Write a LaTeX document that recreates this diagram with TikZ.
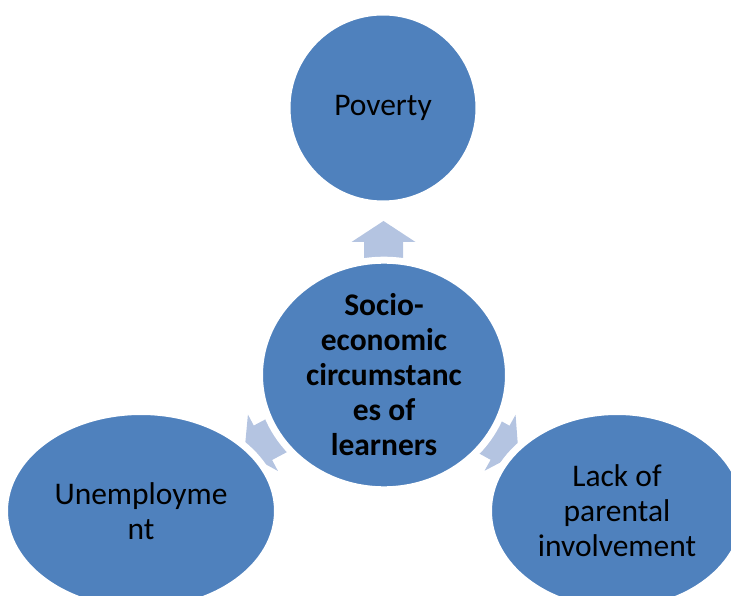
\documentclass[tikz,border=0pt]{standalone}
\usepackage{fontspec}
\setmainfont{Carlito}
\usepackage{tikz}
\usetikzlibrary{calc,shapes.geometric}

\definecolor{bubble}{RGB}{79,129,189}
\definecolor{arrowfill}{RGB}{180,196,225}

\begin{document}
\begin{tikzpicture}[
  x=1pt,y=1pt,
  font=\fontsize{31.5}{35}\selectfont,
  bubble/.style={ellipse,fill=bubble,draw=white,line width=7pt,inner sep=0pt,align=center,text=black},
  hub/.style={bubble,font=\fontsize{31.5}{35}\selectfont\bfseries},
  blockarrow/.pic={
    \fill[arrowfill] (-20.5,-19.5) -- (-0.5,-19.5) -- (-0.5,-32) -- (20.5,0)
      -- (-0.5,32) -- (-0.5,19.5) -- (-20.5,19.5) -- cycle;
  }
]

% ---- page frame ----
\useasboundingbox (0,0) rectangle (731,595);
\clip (0,0) rectangle (731,595);

% ---- centres ----
\coordinate (cpov) at (383,487);
\coordinate (chub) at (384,220);
\coordinate (cunemp) at (141,84);
\coordinate (clack) at (617,84);

% ---- arrows (behind the bubbles) ----
\path ($(chub)!0.5!(cpov)$) pic[rotate=90] {blockarrow};
\path ($(chub)!0.5!(cunemp)$) pic[rotate=208] {blockarrow};
\path ($(chub)!0.5!(clack)$) pic[rotate=-29] {blockarrow};

% ---- bubbles ----
\node[bubble,minimum width=192,minimum height=192] (pov) at (cpov) {Poverty};
\node[hub,minimum width=249,minimum height=191] (hub) at (chub)
  {Socio-\\economic\\circumstanc\\es of\\learners};
\node[bubble,minimum width=273,minimum height=199] (unemp) at (cunemp)
  {Unemployme\\nt};
\node[bubble,minimum width=257,minimum height=199] (lack) at (clack)
  {Lack of\\parental\\involvement};

\end{tikzpicture}
\end{document}
